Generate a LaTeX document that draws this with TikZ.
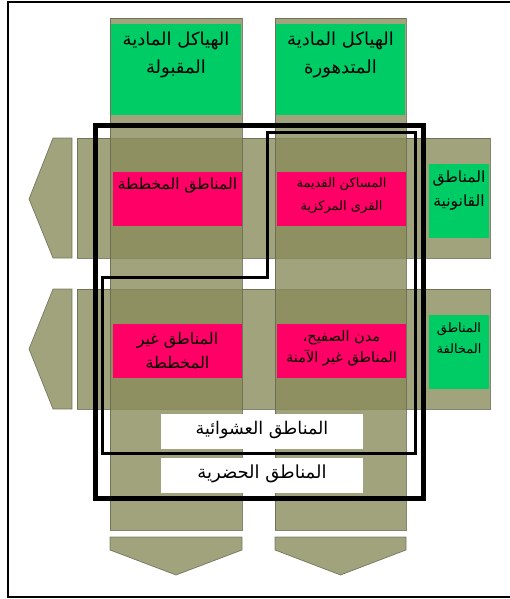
\documentclass[tikz,border=0pt]{standalone}
\usepackage{fontspec}
\TeXXeTstate=1
\newfontfamily\arabicfont[Script=Arabic]{DejaVu Sans}
\newcommand{\artxt}[1]{\beginR #1\endR}
\definecolor{olivebase}{RGB}{138,140,92}
\definecolor{oliveline}{RGB}{100,102,80}
\definecolor{pinkbox}{RGB}{255,0,102}
\definecolor{greenbox}{RGB}{0,204,102}
\tikzset{
  bar/.style={fill=olivebase, fill opacity=0.8, draw=oliveline, draw opacity=0.8, line width=0.7pt},
  pinkrect/.style={fill=pinkbox, draw=none, inner sep=0pt},
  greenrect/.style={fill=greenbox, draw=none, inner sep=0pt},
  whiterect/.style={fill=white, draw=none, inner sep=0pt},
  lbl/.style={inner sep=0pt, align=center},
}
\begin{document}
\begin{tikzpicture}[x=1pt,y=-1pt]
\useasboundingbox (0,0) rectangle (510,599);
\fill[white] (0,0) rectangle (510,599);
% outer frame
\draw[line width=2.5pt] (512,2) -- (8,2) -- (8,597) -- (512,597);

% left chevrons
\draw[bar] (72,138) -- (53,138) -- (29,199) -- (53,258) -- (72,258) -- cycle;
\draw[bar] (72,289) -- (53,289) -- (29,349) -- (53,409) -- (72,409) -- cycle;
% horizontal bars
\draw[bar] (77,138) rectangle (490,258);
\draw[bar] (77,289) rectangle (490,409);
% vertical bars
\draw[bar] (110,18) rectangle (242,530);
\draw[bar] (275,18) rectangle (406,530);
% down chevrons
\draw[bar] (110,537) -- (242,537) -- (242,550) -- (176,575) -- (110,550) -- cycle;
\draw[bar] (275,537) -- (406,537) -- (406,550) -- (340.5,575) -- (275,550) -- cycle;

% top green boxes
\node[greenrect, minimum width=130pt, minimum height=91pt] (gA) at (176,69.5) {};
\node[greenrect, minimum width=129pt, minimum height=91pt] (gB) at (340.5,69.5) {};
\node[lbl, font=\arabicfont\fontsize{18}{28}\selectfont] (tA) at (176,55) {\artxt{الهياكل المادية}\\\artxt{المقبولة}};
\node[lbl, font=\arabicfont\fontsize{18}{28}\selectfont] (tB) at (340.5,55) {\artxt{الهياكل المادية}\\\artxt{المتدهورة}};

% pink boxes
\node[pinkrect, minimum width=129pt, minimum height=54pt] (p1) at (177.5,199) {};
\node[pinkrect, minimum width=129pt, minimum height=54pt] (p2) at (341.5,199) {};
\node[pinkrect, minimum width=129pt, minimum height=54pt] (p3) at (177.5,351) {};
\node[pinkrect, minimum width=129pt, minimum height=54pt] (p4) at (341.5,351) {};
\node[lbl, font=\arabicfont\fontsize{15.5}{22}\selectfont] (t1) at (177.5,186) {\artxt{المناطق المخططة}};
\node[lbl, font=\arabicfont\fontsize{13}{23}\selectfont] (t2) at (341.5,195.5) {\artxt{المساكن القديمة}\\\artxt{القرى المركزية}};
\node[lbl, font=\arabicfont\fontsize{16}{24}\selectfont] (t3) at (177.5,351) {\artxt{المناطق غير}\\\artxt{المخططة}};
\node[lbl, font=\arabicfont\fontsize{14.5}{21}\selectfont] (t4) at (341.5,348.5) {\artxt{مدن الصفيح،}\\\artxt{المناطق غير الآمنة}};

% side green boxes
\node[greenrect, minimum width=60pt, minimum height=74pt] (s1) at (459,201) {};
\node[greenrect, minimum width=60pt, minimum height=74pt] (s2) at (459,352) {};
\node[lbl, font=\arabicfont\fontsize{15.5}{24}\selectfont] (ts1) at (459,191) {\artxt{المناطق}\\\artxt{القانونية}};
\node[lbl, font=\arabicfont\fontsize{13}{21}\selectfont] (ts2) at (459,338.5) {\artxt{المناطق}\\\artxt{المخالفة}};

% white label boxes
\node[whiterect, minimum width=202pt, minimum height=35pt] (w1) at (262,431.5) {};
\node[whiterect, minimum width=202pt, minimum height=35pt] (w2) at (262,475.5) {};
\node[lbl, font=\arabicfont\fontsize{17.5}{20}\selectfont] (tw1) at (262,430) {\artxt{المناطق العشوائية}};
\node[lbl, font=\arabicfont\fontsize{18}{20}\selectfont] (tw2) at (262,474) {\artxt{المناطق الحضرية}};

% informal areas outline
\draw[line width=3pt] (267,132) -- (415,132) -- (415,453) -- (102,453) -- (102,277) -- (267,277) -- cycle;
% urban areas outline
\draw[line width=5pt] (95,125) rectangle (423,498);
\end{tikzpicture}
\end{document}
